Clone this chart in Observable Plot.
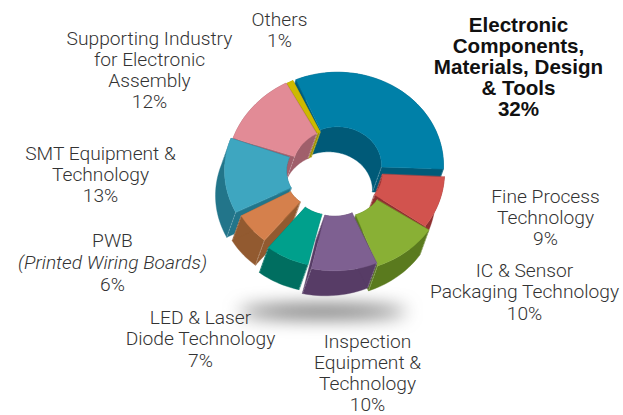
<!DOCTYPE html>
<html>
<head>
<meta charset="utf-8">
<style>html,body{margin:0;padding:0;background:#fff}svg{display:block}</style>
<script src="https://cdn.jsdelivr.net/npm/d3@7"></script>
<script src="https://cdn.jsdelivr.net/npm/@observablehq/plot@0.6"></script>
</head>
<body>
<div id="chart"></div>
<script>
const categories = ["Electronic Components, Materials, Design & Tools","Fine Process Technology","IC & Sensor Packaging Technology","Inspection Equipment & Technology","LED & Laser Diode Technology","PWB (Printed Wiring Boards)","SMT Equipment & Technology","Supporting Industry for Electronic Assembly","Others"];
const shares = [32,9,10,10,7,6,13,12,1];
const topColors = ["#0080a8","#d2534e","#89b035","#7e6091","#00a08c","#d5804c","#3ea6c0","#e28b96","#cdb900"];
const wallColors = ["#005a78","#8f2f2f","#5a7a1e","#573c66","#006e60","#925a30","#22758a","#a05f6b","#a09400"];
const nudgeX = [4,5,7,1,-2,-8,-3,5,6];
const nudgeY = [-5,2,8,7,8,4,0,-1,-2];
const turn = [0,0.5,-1,-4,-3,-2.5,0,-1.5,-2];
const grow = [1,1,1,1,0.95,0.91,1,1.05,1.04];
const drawOrder = [0,8,7,1,6,2,5,4,3];

const labelRows = [
  ["Others",279,19],["1%",279,40],
  ["Supporting Industry",149,38],["for Electronic",149,59],["Assembly",149,80],["12%",149,101],
  ["Electronic",518,25,"b"],["Components,",518,46,"b"],["Materials, Design",518,67,"b"],["& Tools",518,88,"b"],["32%",518,109,"b"],
  ["Fine Process",545,196],["Technology",545,217],["9%",545,238],
  ["IC & Sensor",524,270],["Packaging Technology",524,291],["10%",524,313],
  ["Inspection",367,341],["Equipment &",367,362],["Technology",367,383],["10%",367,404],
  ["LED & Laser",200,317],["Diode Technology",200,338],["7%",200,360],
  ["PWB",112,240],["(Printed Wiring Boards)",112,262,"i"],["6%",112,284],
  ["SMT Equipment &",100,153],["Technology",100,174],["13%",100,195]
].map(([t,x,y,k])=>({t,x,y,k}));

// geometry of the extruded ring
const CX=333, CY=170, RO=106, RI=44, SQ=0.88, DX=-9, DY=25, START=-23;
const rad=d=>d*Math.PI/180;
let acc=START;
const total=d3.sum(shares);
const spans=shares.map((v,i)=>{const a=acc; acc+=v/total*360; return [a+turn[i],acc+turn[i]];});
function pt(i,r,a){const g=r*grow[i];return [CX+nudgeX[i]+g*Math.sin(rad(a)), CY+nudgeY[i]-SQ*g*Math.cos(rad(a))];}
function arc(i,r,a0,a1){const n=Math.max(2,Math.ceil(Math.abs(a1-a0)/2)),o=[];for(let k=0;k<=n;k++)o.push(pt(i,r,a0+(a1-a0)*k/n));return o;}
const shift=p=>[p[0]+DX,p[1]+DY];
const rows=(poly,id)=>poly.map(p=>({x:p[0],y:p[1],id}));

const sliceMarks=drawOrder.flatMap(i=>{
  const [a0,a1]=spans[i];
  const outer=arc(i,RO,a0,a1), inner=arc(i,RI,a0,a1);
  const strip=(s)=>[...s,...s.slice().reverse().map(shift)];
  const walls=[
    ...rows(strip(outer),"o"),
    ...rows(strip(inner),"i"),
    ...rows(strip([pt(i,RI,a0),pt(i,RO,a0)]),"s"),
    ...rows(strip([pt(i,RI,a1),pt(i,RO,a1)]),"e")
  ];
  const top=rows([...outer,...inner.slice().reverse()],"t");
  const corners=[pt(i,RO,a0),pt(i,RO,a1),pt(i,RI,a0),pt(i,RI,a1)];
  const edges=corners.flatMap((c,k)=>rows([c,shift(c)],"c"+k));
  return [
    Plot.line(walls,{x:"x",y:"y",z:"id",fill:wallColors[i],stroke:wallColors[i],strokeWidth:.4,curve:"linear-closed"}),
    Plot.line(edges,{x:"x",y:"y",z:"id",stroke:"#fff",strokeOpacity:.45,strokeWidth:.6,strokeDasharray:"1.5 1.5"}),
    Plot.line(top,{x:"x",y:"y",z:"id",fill:topColors[i],stroke:topColors[i],strokeWidth:.4,curve:"linear-closed"})
  ];
});

const shadow=d3.range(0,360,5).map(a=>({x:322+84*Math.cos(rad(a)),y:311+6*Math.sin(rad(a))}));
const font="Roboto, 'Liberation Sans', sans-serif";
const textOpts={x:"x",y:"y",text:"t",textAnchor:"middle",lineAnchor:"middle",fontSize:19.2,fontFamily:font};

const chart=Plot.plot({
  width:623,height:415,margin:0,
  x:{domain:[0,623],range:[0,623],axis:null},
  y:{domain:[0,415],range:[0,415],axis:null},
  marks:[
    Plot.line(shadow,{x:"x",y:"y",fill:"#555",stroke:"none",curve:"linear-closed",imageFilter:"blur(9px)"}),
    ...sliceMarks,
    Plot.text(labelRows.filter(d=>!d.k),{...textOpts,fill:"#333",fontWeight:300}),
    Plot.text(labelRows.filter(d=>d.k==="i"),{...textOpts,fill:"#333",fontWeight:300,fontStyle:"italic"}),
    Plot.text(labelRows.filter(d=>d.k==="b"),{...textOpts,fill:"#111",fontWeight:700,fontSize:20.6,fontFamily:"'Liberation Sans', sans-serif"})
  ]
});
document.getElementById("chart").appendChild(chart);
</script>
</body>
</html>
